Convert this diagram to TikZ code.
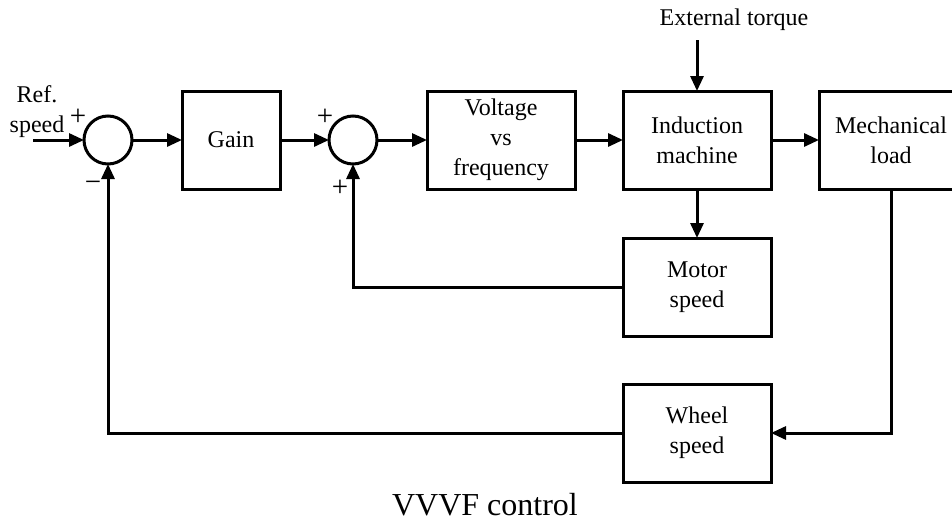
\documentclass[tikz,border=0pt]{standalone}
\usepackage{fontspec}
\setmainfont{Liberation Serif}
\usetikzlibrary{positioning,arrows.meta}

\begin{document}
\begin{tikzpicture}[x=1pt,y=-1pt,line width=3pt,font=\fontsize{24}{30}\selectfont,
    block/.style={rectangle,draw,align=center,minimum width=148pt,minimum height=98pt,inner sep=2pt,outer sep=0pt},
    sum/.style={circle,draw,minimum size=48pt,inner sep=0pt,outer sep=0pt},
    sign/.style={inner sep=0pt,font=\fontsize{29}{30}\selectfont},
    arr/.style={-{Triangle[length=15pt,width=13pt]}}]
    \useasboundingbox (0,0) rectangle (952,522);
    \node[sum] (s1) at (108,140) {};
    \node[block,minimum width=98pt,right=50pt of s1] (gain) {Gain};
    \node[sum,right=49pt of gain] (s2) {};
    \node[block,right=50pt of s2] (vf) {Voltage\\vs\\frequency};
    \node[block,right=48pt of vf] (im) {Induction\\machine};
    \node[block,right=48pt of im,minimum width=144pt] (ml) {Mechanical\\load};
    \node[block,below=49pt of im] (ms) {Motor\\speed};
    \node[block,below=48pt of ms] (ws) {Wheel\\speed};
    % inputs and labels
    \coordinate (ref) at (33,140);
    \node[align=center] (reftxt) at (37,112) {Ref.\\speed};
    \coordinate[above=51pt of im] (tq);
    \node (ext) at (734,20) {External torque};
    \node[sign] (p1) at (78,117) {+};
    \node[sign] (m1) at (93,186) {−};
    \node[sign] (p2) at (325,117) {+};
    \node[sign] (p3) at (340,188) {+};
    \node[font=\fontsize{32}{38}\selectfont,inner sep=0pt] (title) at (485,505) {VVVF control};
    % forward path
    \draw[arr] (ref) -- (s1);
    \draw[arr] (s1) -- (gain);
    \draw[arr] (gain) -- (s2);
    \draw[arr] (s2) -- (vf);
    \draw[arr] (vf) -- (im);
    \draw[arr] (im) -- (ml);
    \draw[arr] (tq) -- (im);
    \draw[arr] (im) -- (ms);
    % feedback
    \draw[arr] (ml.south) |- (ws.east);
    \draw[arr] (ws.west) -| (s1.south);
    \draw[arr] (ms.west) -| (s2.south);
\end{tikzpicture}
\end{document}
